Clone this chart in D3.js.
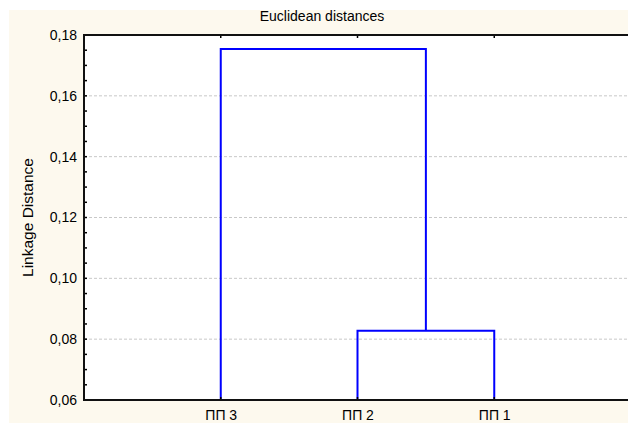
<!DOCTYPE html>
<html>
<head>
<meta charset="utf-8">
<script src="https://cdn.jsdelivr.net/npm/d3@7.9.0/dist/d3.min.js"></script>
<style>
  body { margin: 0; background: #fff; }
  svg { display: block; font-family: "Liberation Sans", Arial, sans-serif; }
</style>
</head>
<body>
<div id="chart"></div>
<script>
// leaves in dendrogram order
const leaves = ["ПП 3", "ПП 2", "ПП 1"];
// merges: ids 0..2 are leaves, 3.. are clusters in order of creation
const mergePairs = [[1, 2], [0, 3]];
const mergeHeights = [0.0828, 0.1754];
const yTicks = [0.06, 0.08, 0.10, 0.12, 0.14, 0.16, 0.18];

const W = 628, H = 423;
const margin = { top: 35, right: 0, bottom: 23, left: 84 };
const FS = 14;

const svg = d3.select("#chart").append("svg")
  .attr("width", W).attr("height", H);

// cream panel + white plot area
svg.append("rect").attr("x", 9).attr("y", 10)
  .attr("width", W - 9).attr("height", H - 10).attr("fill", "#fdf9ee");
svg.append("rect").attr("x", margin.left).attr("y", margin.top)
  .attr("width", W - margin.left).attr("height", H - margin.bottom - margin.top)
  .attr("fill", "#fff");

const x = d3.scaleLinear().domain([0, 4]).range([margin.left, 631]);
const y = d3.scaleLinear().domain([0.06, 0.18]).range([H - margin.bottom, margin.top]);

// grid
svg.append("g").selectAll("line")
  .data(yTicks.slice(1, -1))
  .join("line")
    .attr("x1", margin.left).attr("x2", W)
    .attr("y1", d => y(d)).attr("y2", d => y(d))
    .attr("stroke", "#c8c8c8").attr("stroke-dasharray", "3,2");

// positions of leaves and clusters
const pos = leaves.map((d, i) => ({ x: x(i + 1), h: 0.06 }));
const links = [];
mergePairs.forEach(([a, b], i) => {
  const h = mergeHeights[i];
  const A = pos[a], B = pos[b];
  links.push([[A.x, y(A.h)], [A.x, y(h)], [B.x, y(h)], [B.x, y(B.h)]]);
  pos.push({ x: (A.x + B.x) / 2, h });
});

svg.append("g").selectAll("path")
  .data(links)
  .join("path")
    .attr("d", d3.line())
    .attr("fill", "none")
    .attr("stroke", "#0000ff")
    .attr("stroke-width", 2);

// left axis
const yAxis = svg.append("g")
  .attr("transform", `translate(${margin.left},0)`)
  .call(d3.axisLeft(y).tickValues(yTicks).tickSize(0).tickPadding(7)
    .tickFormat(d => d3.format(".2f")(d).replace(".", ",")));
yAxis.select(".domain").remove();
yAxis.selectAll("text").attr("font-size", FS).attr("fill", "#000")
  .attr("font-family", "Liberation Sans, Arial, sans-serif");

// minor/major inward ticks
svg.append("g").selectAll("line")
  .data(d3.range(0.06, 0.1801, 0.005))
  .join("line")
    .attr("x1", margin.left).attr("x2", margin.left + 3)
    .attr("y1", d => y(d)).attr("y2", d => y(d))
    .attr("stroke", "#000").attr("stroke-width", 1.5);

// bottom axis labels
const xAxis = svg.append("g")
  .attr("transform", `translate(0,${H - margin.bottom})`)
  .call(d3.axisBottom(x).tickValues([1, 2, 3]).tickSize(0).tickPadding(10)
    .tickFormat(d => leaves[d - 1]));
xAxis.select(".domain").remove();
xAxis.selectAll("text").attr("font-size", FS).attr("fill", "#000")
  .attr("font-family", "Liberation Sans, Arial, sans-serif");

// ticks on top and bottom
[1, 2, 3].forEach(i => {
  svg.append("line").attr("x1", x(i)).attr("x2", x(i))
    .attr("y1", margin.top).attr("y2", margin.top + 3)
    .attr("stroke", "#000").attr("stroke-width", 1.5);
  svg.append("line").attr("x1", x(i)).attr("x2", x(i))
    .attr("y1", H - margin.bottom).attr("y2", H - margin.bottom - 3)
    .attr("stroke", "#000").attr("stroke-width", 1.5);
});

// frame lines
svg.append("line").attr("x1", margin.left).attr("x2", W)
  .attr("y1", margin.top).attr("y2", margin.top)
  .attr("stroke", "#111").attr("stroke-width", 2);
svg.append("line").attr("x1", margin.left).attr("x2", W)
  .attr("y1", H - margin.bottom).attr("y2", H - margin.bottom)
  .attr("stroke", "#111").attr("stroke-width", 2);
svg.append("line").attr("x1", margin.left).attr("x2", margin.left)
  .attr("y1", margin.top - 1).attr("y2", H - margin.bottom + 1)
  .attr("stroke", "#111").attr("stroke-width", 2);

// title & y label
svg.append("text")
  .attr("x", 322).attr("y", 21)
  .attr("text-anchor", "middle")
  .attr("font-size", FS)
  .text("Euclidean distances");

svg.append("text")
  .attr("transform", `translate(33,${(margin.top + H - margin.bottom) / 2}) rotate(-90)`)
  .attr("text-anchor", "middle")
  .attr("font-size", 15.5)
  .text("Linkage Distance");
</script>
</body>
</html>
